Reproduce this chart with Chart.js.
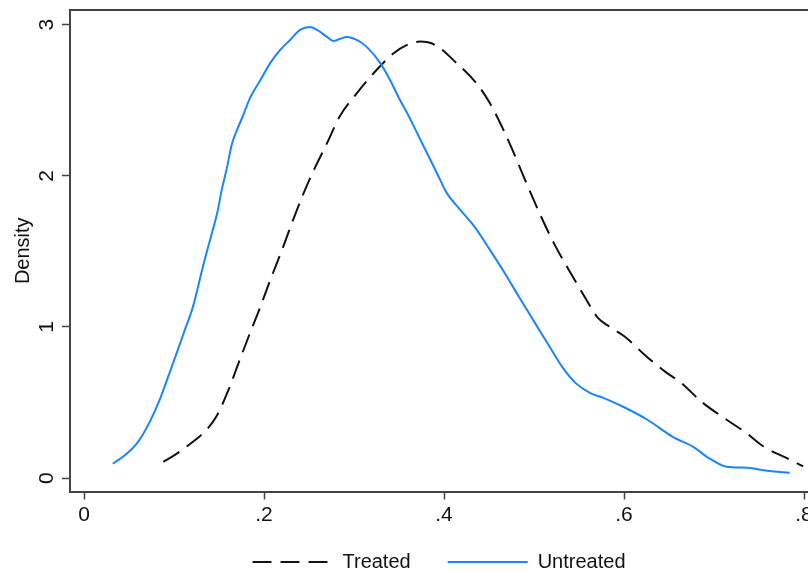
<!DOCTYPE html>
<html>
<head>
<meta charset="utf-8">
<script src="https://cdn.jsdelivr.net/npm/chart.js@4/dist/chart.umd.min.js"></script>
<style>
  body { margin: 0; background: #fff; }
  #wrap { width: 808px; height: 575px; position: relative; }
</style>
</head>
<body>
<div id="wrap"><canvas id="densite"></canvas></div>
<script>
// kernel density
var treatedX = [0.088, 0.101, 0.114, 0.136, 0.147, 0.159, 0.173, 0.184, 0.196, 0.207, 0.220, 0.231, 0.244, 0.257, 0.270, 0.284, 0.303, 0.325, 0.344, 0.359, 0.373, 0.390, 0.414, 0.436, 0.451, 0.466, 0.476, 0.490, 0.507, 0.523, 0.540, 0.557, 0.571, 0.584, 0.601, 0.623, 0.646, 0.662, 0.688, 0.714, 0.736, 0.755, 0.781, 0.799];
var treatedY = [0.108, 0.154, 0.209, 0.319, 0.407, 0.562, 0.782, 0.954, 1.135, 1.312, 1.510, 1.688, 1.885, 2.059, 2.216, 2.392, 2.546, 2.700, 2.811, 2.866, 2.888, 2.866, 2.745, 2.612, 2.480, 2.304, 2.171, 1.973, 1.741, 1.543, 1.364, 1.192, 1.060, 1.001, 0.935, 0.815, 0.703, 0.637, 0.496, 0.386, 0.298, 0.209, 0.132, 0.077];

var untreatedX = [0.032, 0.046, 0.060, 0.073, 0.084, 0.093, 0.103, 0.112, 0.121, 0.132, 0.140, 0.148, 0.153, 0.159, 0.164, 0.170, 0.177, 0.184, 0.196, 0.207, 0.218, 0.229, 0.240, 0.251, 0.259, 0.270, 0.277, 0.284, 0.292, 0.303, 0.314, 0.329, 0.340, 0.351, 0.359, 0.370, 0.381, 0.392, 0.403, 0.418, 0.434, 0.451, 0.468, 0.484, 0.501, 0.518, 0.532, 0.546, 0.562, 0.577, 0.599, 0.626, 0.654, 0.677, 0.692, 0.714, 0.737, 0.759, 0.784];
var untreatedY = [0.095, 0.154, 0.240, 0.372, 0.518, 0.663, 0.829, 0.981, 1.133, 1.397, 1.576, 1.755, 1.907, 2.059, 2.204, 2.304, 2.403, 2.509, 2.634, 2.747, 2.833, 2.899, 2.965, 2.985, 2.965, 2.919, 2.892, 2.905, 2.919, 2.899, 2.853, 2.747, 2.634, 2.502, 2.416, 2.284, 2.151, 2.019, 1.887, 1.775, 1.662, 1.510, 1.351, 1.192, 1.027, 0.862, 0.729, 0.630, 0.564, 0.531, 0.472, 0.386, 0.273, 0.207, 0.141, 0.075, 0.068, 0.048, 0.035];

var xTicks = [0, 0.2, 0.4, 0.6, 0.8];
var yTicks = [0, 1, 2, 3];
var seriesNames = ["Treated", "Untreated"];

function points(xs, ys) {
  return xs.map(function(x, i) { return { x: x, y: ys[i] }; });
}

var police = "'Liberation Sans', Arial, Helvetica, sans-serif";

// top side of the plot box
var cadre = {
  id: 'cadre',
  afterDraw: function(chart) {
    var a = chart.chartArea, ctx = chart.ctx;
    ctx.save();
    ctx.strokeStyle = '#444';
    ctx.lineWidth = 2;
    ctx.beginPath();
    ctx.moveTo(a.left - 1, a.top);
    ctx.lineTo(a.right, a.top);
    ctx.stroke();
    ctx.restore();
  }
};

// legend: wide gap between the two items, text sits at y ~562
var legendeHauteur = {
  id: 'legendeHauteur',
  beforeUpdate: function(chart) {
    var lg = chart.legend;
    if (lg && !lg._patche) {
      var fit = lg.fit;
      lg.fit = function() { fit.call(this); this.height = 43.5; };
      lg._patche = true;
    }
  },
  afterLayout: function(chart) {
    var lg = chart.legend;
    if (lg) { lg.top = 515; lg.bottom = 575; }
  }
};

var ctx = document.getElementById('densite').getContext('2d');
var graphique = new Chart(ctx, {
  type: 'line',
  data: {
    datasets: [{
      label: seriesNames[0],
      data: points(treatedX, treatedY),
      borderColor: '#111',
      borderWidth: 2,
      borderDash: [19, 9],
      pointRadius: 0,
      cubicInterpolationMode: 'monotone',
      fill: false,
      order: 1
    }, {
      label: seriesNames[1],
      data: points(untreatedX, untreatedY),
      borderColor: '#1a85ff',
      borderWidth: 2,
      pointRadius: 0,
      cubicInterpolationMode: 'monotone',
      fill: false,
      order: 0
    }]
  },
  options: {
    responsive: true,
    maintainAspectRatio: false,
    animation: false,
    layout: { padding: { top: 10, right: 0, bottom: 0, left: 0 } },
    plugins: {
      tooltip: { enabled: false },
      legend: {
        position: 'bottom',
        fullSize: false,
        labels: {
          sort: function(a, b) { return a.datasetIndex - b.datasetIndex; },
          generateLabels: function(chart) {
            var items = Chart.defaults.plugins.legend.labels.generateLabels(chart);
            items.forEach(function(it) {
              var ds = chart.data.datasets[it.datasetIndex];
              it.lineDash = ds.borderDash || [];
              it.lineWidth = ds.borderWidth;
              it.strokeStyle = ds.borderColor;
            });
            return items;
          },
          usePointStyle: true,
          pointStyle: 'line',
          pointStyleWidth: 80,
          boxHeight: 20,
          padding: 37,
          color: '#111',
          font: { family: police, size: 20 }
        }
      }
    },
    scales: {
      x: {
        type: 'linear',
        min: -0.0156,
        max: 0.8044,
        afterBuildTicks: function(a) { a.ticks = xTicks.map(function(v) { return { value: v }; }); },
        afterFit: function(a) { a.height = 40; a.paddingLeft = 0; a.paddingRight = 0; },
        ticks: {
          color: '#111',
          font: { family: police, size: 21 },
          padding: 3,
          minRotation: 0,
          maxRotation: 0,
          autoSkip: false,
          callback: function(v) { return v === 0 ? '0' : String(Math.round(v * 10) / 10).replace(/^0/, ''); }
        },
        grid: { drawOnChartArea: false, drawTicks: true, tickLength: 8, color: '#444', tickWidth: 1.5 },
        border: { display: true, color: '#444', width: 2 }
      },
      y: {
        type: 'linear',
        min: -0.0886,
        max: 3.097,
        afterBuildTicks: function(a) { a.ticks = yTicks.map(function(v) { return { value: v }; }); },
        afterFit: function(a) { a.width = 70; a.paddingTop = 0; a.paddingBottom = 0; },
        title: {
          display: true,
          text: 'Density',
          color: '#111',
          font: { family: police, size: 20 },
          padding: { top: 11, bottom: 0 }
        },
        ticks: {
          color: '#111',
          font: { family: police, size: 21 },
          minRotation: 90,
          maxRotation: 90,
          crossAlign: 'center',
          padding: 9,
          autoSkip: false,
          callback: function(v) { return String(v); }
        },
        grid: { drawOnChartArea: false, drawTicks: true, tickLength: 8, color: '#444', tickWidth: 1.5 },
        border: { display: true, color: '#444', width: 2 }
      }
    }
  },
  plugins: [cadre, legendeHauteur]
});
</script>
</body>
</html>
